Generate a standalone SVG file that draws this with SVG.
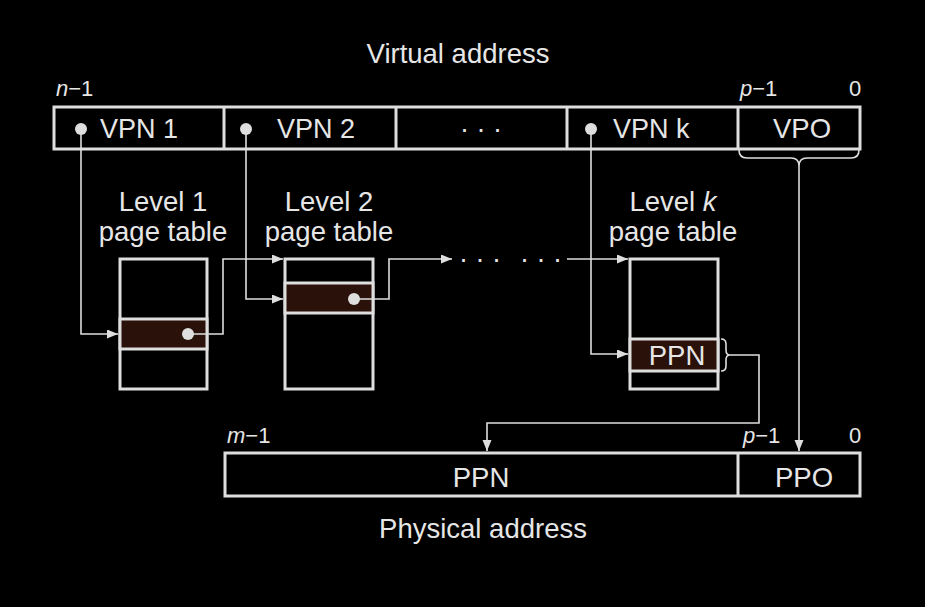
<svg xmlns="http://www.w3.org/2000/svg" width="925" height="607" viewBox="0 0 925 607">
<style>
  .t { font-family: "Liberation Sans", Arial, sans-serif; fill: #e6e6e6; font-size: 27.5px; }
  .v { font-size: 27px; }
  .s { font-family: "Liberation Sans", Arial, sans-serif; fill: #e6e6e6; font-size: 22px; }
  .box { fill: none; stroke: #dedede; stroke-width: 3; }
  .row { fill: #2a1109; stroke: #dedede; stroke-width: 3; }
  .ln { fill: none; stroke: #dedede; stroke-width: 1.6; }
  .dot { fill: #dedede; }
</style>
<defs>
  <marker id="ah" markerUnits="userSpaceOnUse" markerWidth="12" markerHeight="10" refX="11" refY="4.5" orient="auto">
    <path d="M0,0 L11,4.5 L0,9 z" fill="#dedede"/>
  </marker>
</defs>
<rect width="925" height="607" fill="#000"/>

<text class="t" x="458" y="63" text-anchor="middle">Virtual address</text>

<g id="va">
  <rect class="box" x="54" y="107" width="806" height="42"/>
  <line class="box" x1="224" y1="107" x2="224" y2="149"/>
  <line class="box" x1="396" y1="107" x2="396" y2="149"/>
  <line class="box" x1="567" y1="107" x2="567" y2="149"/>
  <line class="box" x1="738" y1="107" x2="738" y2="149"/>
  <circle class="dot" cx="81" cy="129" r="6"/>
  <text class="t v" x="100" y="138">VPN 1</text>
  <circle class="dot" cx="246" cy="129" r="6"/>
  <text class="t v" x="277" y="138">VPN 2</text>
  <text class="t v" x="481" y="138" text-anchor="middle">· · ·</text>
  <circle class="dot" cx="591" cy="129" r="6"/>
  <text class="t v" x="613" y="138">VPN k</text>
  <text class="t" x="802" y="138" text-anchor="middle">VPO</text>
  <text class="s" x="56" y="96"><tspan font-style="italic">n</tspan>−1</text>
  <text class="s" x="740" y="96"><tspan font-style="italic">p</tspan>−1</text>
  <text class="s" x="855" y="96" text-anchor="middle">0</text>
</g>

<g id="pt1">
  <text class="t" x="163" y="211" text-anchor="middle">Level 1</text>
  <text class="t" x="163" y="241" text-anchor="middle">page table</text>
  <rect class="box" x="120" y="259" width="87" height="130"/>
  <rect class="row" x="120" y="319" width="87" height="30"/>
  <circle class="dot" cx="188" cy="334" r="6"/>
</g>

<g id="pt2">
  <text class="t" x="329" y="211" text-anchor="middle">Level 2</text>
  <text class="t" x="329" y="241" text-anchor="middle">page table</text>
  <rect class="box" x="285" y="259" width="88" height="130"/>
  <rect class="row" x="285" y="283" width="88" height="30"/>
  <circle class="dot" cx="354" cy="299" r="6"/>
</g>

<g id="ptk">
  <text class="t" x="673" y="211" text-anchor="middle">Level <tspan font-style="italic">k</tspan></text>
  <text class="t" x="673" y="241" text-anchor="middle">page table</text>
  <rect class="box" x="630" y="259" width="88" height="130"/>
  <rect class="row" x="630" y="339" width="88" height="32"/>
  <text class="t" x="677" y="365" text-anchor="middle">PPN</text>
</g>

<g id="pa">
  <rect class="box" x="225" y="453" width="635" height="43"/>
  <line class="box" x1="738" y1="453" x2="738" y2="496"/>
  <text class="t" x="481" y="487" text-anchor="middle">PPN</text>
  <text class="t" x="804" y="487" text-anchor="middle">PPO</text>
  <text class="s" x="227" y="443"><tspan font-style="italic">m</tspan>−1</text>
  <text class="s" x="743" y="443"><tspan font-style="italic">p</tspan>−1</text>
  <text class="s" x="855" y="443" text-anchor="middle">0</text>
  <text class="t" x="483" y="538" text-anchor="middle">Physical address</text>
</g>

<g id="connectors">
  <polyline class="ln" points="81,129 81,334 118,334" marker-end="url(#ah)"/>
  <polyline class="ln" points="246,129 246,299 283,299" marker-end="url(#ah)"/>
  <polyline class="ln" points="591,129 591,354 628,354" marker-end="url(#ah)"/>
  <polyline class="ln" points="188,334 223,334 223,259 283,259" marker-end="url(#ah)"/>
  <polyline class="ln" points="354,299 389,299 389,259 452,259" marker-end="url(#ah)"/>
  <text class="t v" x="480" y="268" text-anchor="middle">· · ·</text>
  <text class="t v" x="541" y="268" text-anchor="middle">· · ·</text>
  <polyline class="ln" points="567,259 628,259" marker-end="url(#ah)"/>
  <path class="ln" d="M739,150 q0,8 8,8 h44 q8,0 8,8 q0,-8 8,-8 h44 q8,0 8,-8"/>
  <polyline class="ln" points="799,166 799,451" marker-end="url(#ah)"/>
  <path class="ln" d="M721,339 q5,0 5,5 v6 q0,5 4,5 q-4,0 -4,5 v6 q0,5 -5,5"/>
  <polyline class="ln" points="730,355 759,355 759,423 487,423 487,451" marker-end="url(#ah)"/>
</g>
</svg>
